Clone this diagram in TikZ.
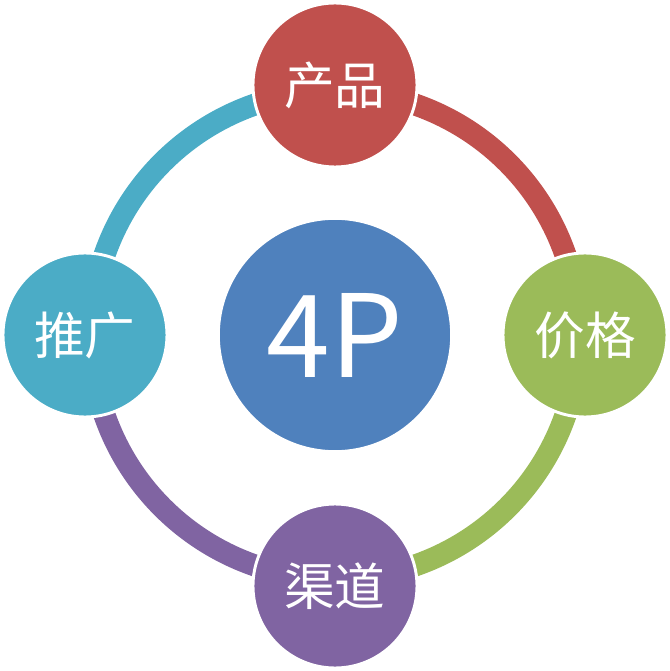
\documentclass[tikz,border=0pt]{standalone}
\usepackage{fontspec}
\setmainfont{Noto Sans CJK SC}
\usetikzlibrary{calc}
\definecolor{pred}{HTML}{C0504D}
\definecolor{pgreen}{HTML}{9BBB59}
\definecolor{ppurple}{HTML}{8064A2}
\definecolor{pcyan}{HTML}{4BACC6}
\definecolor{pblue}{HTML}{4F81BD}
\tikzset{
  ringarc/.style={line width=16.5pt, line cap=butt},
  pcircle/.style={circle, draw=white, line width=2.2pt, minimum size=123pt, inner sep=0pt, text=white, font=\fontsize{38}{40}\selectfont},
  hub/.style={circle, draw=white, line width=2.2pt, minimum size=175pt, inner sep=0pt, fill=pblue, text=white, font=\fontsize{86}{90}\selectfont}
}
\begin{document}
\begin{tikzpicture}[x=0.75pt, y=0.75pt]
\useasboundingbox (-335,-336) rectangle (335,335);
\coordinate (c) at (0,0);
\draw[ringarc, draw=pred] ($(c)+(71:244)$) arc[start angle=71, end angle=19, radius=244];
\draw[ringarc, draw=pgreen] ($(c)+(-19:244)$) arc[start angle=-19, end angle=-71, radius=244];
\draw[ringarc, draw=ppurple] ($(c)+(-109:244)$) arc[start angle=-109, end angle=-161, radius=244];
\draw[ringarc, draw=pcyan] ($(c)+(161:244)$) arc[start angle=161, end angle=109, radius=244];
\node[hub] (hub) at (c) {4P};
\node[pcircle, fill=pred] (prod) at (0,250) {产品};
\node[pcircle, fill=pgreen] (price) at (250,0) {价格};
\node[pcircle, fill=ppurple] (place) at (0,-251) {渠道};
\node[pcircle, fill=pcyan] (promo) at (-250,0) {推广};
\end{tikzpicture}
\end{document}
